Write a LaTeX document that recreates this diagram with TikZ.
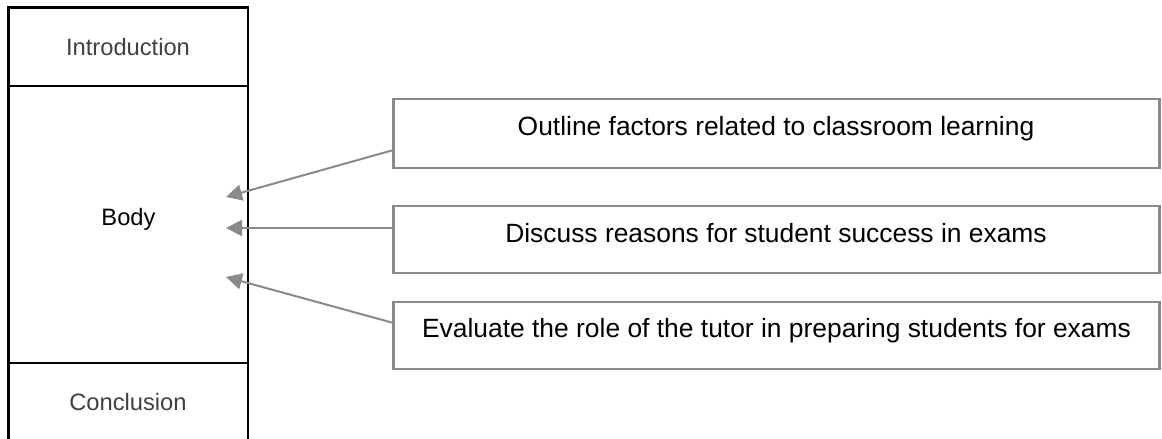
\documentclass[tikz,border=0pt]{standalone}
\usepackage{fontspec}
\setmainfont{Liberation Sans}
\usetikzlibrary{arrows.meta}
\definecolor{boxgray}{HTML}{8A8A8A}
\definecolor{lefttext}{HTML}{404040}
\tikzset{
  colline/.style={draw=black, line width=2.4pt},
  colbox/.style={colline, rectangle, inner sep=0pt, outer sep=0pt},
  itembox/.style={draw=boxgray, line width=2.2pt, rectangle, inner sep=0pt, outer sep=0pt, minimum width=766pt},
  lefttxt/.style={font=\fontsize{23.7pt}{28pt}\selectfont, text=lefttext, anchor=base, inner sep=0pt},
  righttxt/.style={font=\fontsize{26.4pt}{31pt}\selectfont, text=black, anchor=base, inner sep=0pt},
  link/.style={draw=boxgray, line width=2pt, -{Triangle[length=16pt,width=16pt]}}
}
\begin{document}
\begin{tikzpicture}[x=1pt,y=-1pt]
\useasboundingbox (0,0) rectangle (1162,439);
% left column
\node[colbox, minimum width=239.5pt, minimum height=78.5pt, anchor=north west] (intro) at (8.5,7.5) {};
\node[colbox, minimum width=239.5pt, minimum height=277pt, anchor=north west] (body) at (8.5,86) {};
\node[colbox, minimum width=239.5pt, minimum height=100pt, anchor=north west] (concl) at (8.5,363) {};
\node[lefttxt] (introtxt) at (128,55) {Introduction};
\node[lefttxt, text=black] (bodytxt) at (128.5,225) {Body};
\node[lefttxt] (concltxt) at (128,410) {Conclusion};
% right boxes
\node[itembox, minimum height=69pt, anchor=north west] (b1) at (393.5,99) {};
\node[itembox, minimum height=67pt, anchor=north west] (b2) at (393.5,206) {};
\node[itembox, minimum height=67pt, anchor=north west] (b3) at (393.5,302) {};
\node[righttxt] (t1) at (776,135) {Outline factors related to classroom learning};
\node[righttxt] (t2) at (776,242) {Discuss reasons for student success in exams};
\node[righttxt] (t3) at (776.5,337) {Evaluate the role of the tutor in preparing students for exams};
% arrow ends
\coordinate (s1) at (b1.west |- 0,150);
\coordinate (s2) at (b2.west |- 0,228);
\coordinate (s3) at (b3.west |- 0,323);
\coordinate (e1) at (226,197);
\coordinate (e2) at (226,228);
\coordinate (e3) at (226,277);
\draw[link] (s1) -- (e1);
\draw[link] (s2) -- (e2);
\draw[link] (s3) -- (e3);
\end{tikzpicture}
\end{document}
